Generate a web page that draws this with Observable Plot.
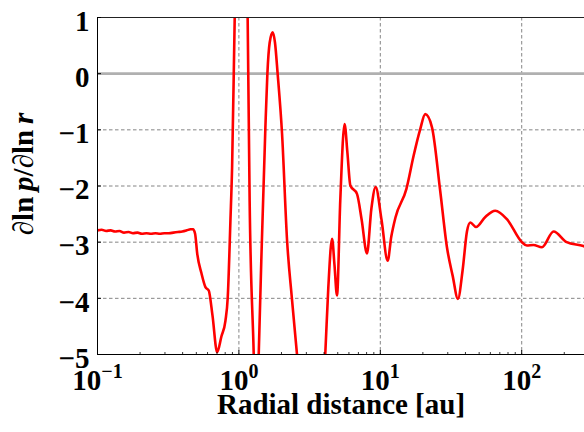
<!DOCTYPE html>
<html>
<head>
<meta charset="utf-8">
<script src="https://cdn.jsdelivr.net/npm/d3@7"></script>
<script src="https://cdn.jsdelivr.net/npm/@observablehq/plot@0.6"></script>
<style>
  html, body { margin: 0; padding: 0; background: white; }
  svg text { font-family: 'Liberation Serif', 'Times New Roman', serif !important; font-weight: bold; }
</style>
</head>
<body>
<div id="chart"></div>
<script>
// Radial distance [au]
const radius = [
  0.1, 0.107, 0.115, 0.124, 0.133, 0.143, 0.154, 0.166, 0.178, 0.192,
  0.206, 0.222, 0.239, 0.257, 0.276, 0.297, 0.320, 0.344, 0.370, 0.398,
  0.428, 0.455, 0.474, 0.49, 0.507, 0.543, 0.580, 0.612, 0.650, 0.702,
  0.752, 0.803, 0.834, 0.871, 0.895, 0.934, 0.98, 1.03, 1.09, 1.153,
  1.191, 1.273, 1.33, 1.381, 1.459, 1.539, 1.59, 1.65, 1.733, 1.80,
  1.879, 2.019, 2.191, 2.37, 2.576, 3.25, 4.08, 4.29, 4.56, 4.74,
  4.94, 5.21, 5.59, 5.85, 6.14, 6.84, 7.38, 8.05, 8.65, 9.27,
  10.2, 11.27, 11.96, 12.8, 15.3, 17.2, 19.1, 20.8, 23.2, 26.5,
  29.6, 32.5, 35.4, 38.2, 41.0, 43.3, 47.5, 55.3, 65.0, 78.6,
  100.3, 108.8, 121, 139, 168, 208, 273, 280
];
// d ln p / d ln r
const dlnp = [
  -2.79, -2.78, -2.80, -2.79, -2.81, -2.80, -2.83, -2.82, -2.84, -2.83,
  -2.85, -2.84, -2.85, -2.84, -2.85, -2.84, -2.84, -2.83, -2.82, -2.81,
  -2.79, -2.77, -2.77, -2.85, -3.2, -3.55, -3.80, -3.86, -4.3, -4.96,
  -4.68, -4.40, -3.98, -2.62, -1.67, 1.0, 3.5, 5.0, 3.5, 1.0,
  -2.26, -5.0, -7.0, -5.0, -2.85, -0.96, 0.0, 0.55, 0.735, 0.55,
  0.0, -1.07, -2.97, -4.0, -5.0, -8.0, -5.0, -3.8, -2.94, -3.4,
  -3.95, -2.26, -0.895, -1.4, -1.99, -2.14, -2.6, -3.2, -2.4, -2.02,
  -2.6, -3.33, -2.9, -2.56, -2.05, -1.46, -1.0, -0.72, -0.955, -2.08,
  -3.09, -3.6, -4.01, -3.5, -2.81, -2.65, -2.73, -2.55, -2.44, -2.59,
  -3.0, -3.06, -3.05, -3.09, -2.81, -3.0, -3.07, -3.08
];
const xTicks = [0.1, 1, 10, 100];
const xBase = "10";
const xExponents = ["−1", "0", "1", "2"];
const xMinor = [0.2,0.3,0.4,0.5,0.6,0.7,0.8,0.9,2,3,4,5,6,7,8,9,20,30,40,50,60,70,80,90,200];
const yTicks = [-5, -4, -3, -2, -1, 0, 1];
const xTitle = "Radial distance [au]";
const yTitle = "∂ln p/∂ln r";

const data = radius.map((r, i) => ({r, v: dlnp[i]}));
const fmtY = d => d < 0 ? "−" + Math.abs(d) : String(d);

const font = "'Liberation Serif', 'Times New Roman', serif";

const chart = Plot.plot({
  width: 584,
  height: 432,
  marginLeft: 97,
  marginRight: 0,
  marginTop: 17,
  marginBottom: 78,
  style: {fontFamily: font, fontWeight: "bold", background: "white", color: "black"},
  x: {type: "log", domain: [0.1, 278], axis: null},
  y: {domain: [-5, 1], axis: null},
  marks: [
    Plot.ruleX(xTicks, {stroke: "#777", strokeWidth: 0.9, strokeDasharray: "3.5,2.5"}),
    Plot.ruleY(yTicks.filter(d => d !== 0), {stroke: "#777", strokeWidth: 0.9, strokeDasharray: "3.5,2.5"}),
    Plot.ruleY([0], {stroke: "#b0b0b0", strokeWidth: 2.6}),
    Plot.line(data, {x: "r", y: "v", stroke: "#ff0000", strokeWidth: 2.6, curve: "monotone-x", clip: true}),
    // spines
    Plot.ruleY([1], {stroke: "#222", strokeWidth: 1}),
    Plot.ruleY([-5], {stroke: "black", strokeWidth: 1}),
    Plot.ruleX([0.1], {stroke: "black", strokeWidth: 1}),
    // inward ticks
    Plot.tickX(xTicks, {stroke: "black", strokeWidth: 1, insetTop: 333}),
    Plot.tickX(xMinor, {stroke: "black", strokeWidth: 0.8, insetTop: 335}),
    Plot.tickY(yTicks, {stroke: "black", strokeWidth: 1, insetRight: 483}),
    // y tick labels
    Plot.text(yTicks, {y: d => d, text: fmtY, frameAnchor: "left", textAnchor: "end", dx: -8, dy: 4, fontSize: 29, fontWeight: "bold", fontFamily: font}),
    // x tick labels (10^n)
    Plot.text(xTicks, {x: d => d, text: () => xBase, frameAnchor: "bottom", lineAnchor: "top", dy: 15, fontSize: 29, fontWeight: "bold", textAnchor: "middle", fontFamily: font}),
    Plot.text([xTitle], {frameAnchor: "bottom", dy: 59, fontSize: 29, fontWeight: "bold", fontFamily: font}),
    Plot.text([yTitle], {frameAnchor: "left", textAnchor: "middle", dx: -74, dy: -12, rotate: -90, fontSize: 29, fontWeight: "bold", fontFamily: font})
  ]
});

const svgSel = d3.select(chart);
// superscript exponents on x tick labels
let k = 0;
svgSel.selectAll("text").filter(function() { return this.textContent === xBase; })
  .each(function() {
    d3.select(this).append("tspan").attr("dy", "-0.6em").attr("font-size", 20).text(xExponents[k++]);
  });
// italic p and r in y label (tight math spacing)
svgSel.selectAll("text").filter(function() { return this.textContent === yTitle; })
  .each(function() {
    const t = d3.select(this);
    t.text(null);
    t.append("tspan").text("∂ln\u2009");
    t.append("tspan").attr("font-style", "italic").text("p");
    t.append("tspan").text("/∂ln\u2009");
    t.append("tspan").attr("font-style", "italic").text("r");
  });

document.getElementById("chart").appendChild(chart);
</script>
</body>
</html>
